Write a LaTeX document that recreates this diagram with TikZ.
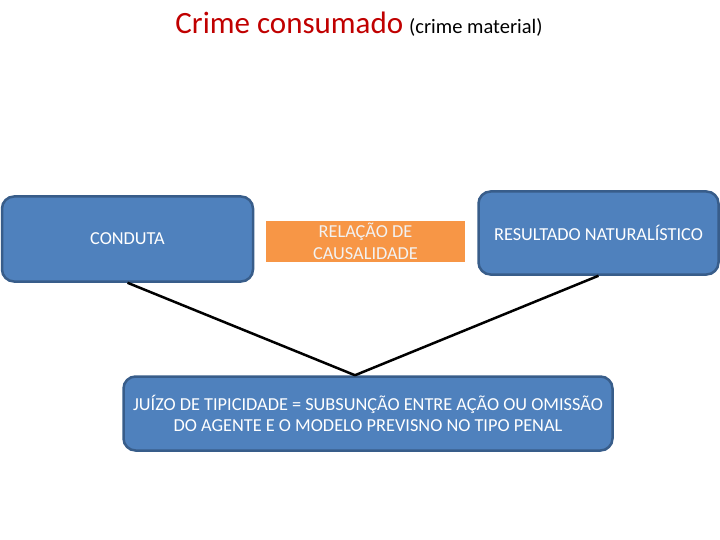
\documentclass[tikz,border=0pt]{standalone}
\usepackage{fontspec}
\setmainfont{Carlito}
\usetikzlibrary{calc}
\definecolor{boxblue}{HTML}{4F81BD}
\definecolor{boxedge}{HTML}{385D8A}
\definecolor{orng}{HTML}{F79646}
\definecolor{titlered}{HTML}{C00000}
\begin{document}
\begin{tikzpicture}[x=1pt,y=-1pt,
  bluebox/.style={draw=boxedge,line width=2.5pt,fill=boxblue,rounded corners=12pt,text=white,font=\fontsize{18.3}{21}\selectfont,align=center,inner sep=0pt},
  orangebox/.style={fill=orng,text=white!95!black,font=\fontsize{18.3}{22}\selectfont,align=center,inner sep=0pt},
  link/.style={draw=black,line width=2.5pt}]
\useasboundingbox (0,0) rectangle (720,540);
\node[anchor=base,inner sep=0pt] (title) at (359,34) {\textcolor{titlered}{\fontsize{31}{34}\selectfont Crime consumado}\hspace{6pt}{\fontsize{20.5}{24}\selectfont (crime material)}};
\node[bluebox,minimum width=251pt,minimum height=85pt] (cond) at (127.5,239) {CONDUTA};
\node[orangebox,minimum width=199pt,minimum height=41pt] (rel) at (365.5,241.5) {RELAÇÃO DE\\CAUSALIDADE};
\node[bluebox,minimum width=240pt,minimum height=83pt] (res) at (598.5,233) {RESULTADO NATURALÍSTICO};
\node[bluebox,minimum width=489pt,minimum height=74pt] (jui) at (368,413.5) {JUÍZO DE TIPICIDADE = SUBSUNÇÃO ENTRE AÇÃO OU OMISSÃO\\DO AGENTE E O MODELO PREVISNO NO TIPO PENAL};
\coordinate (meet) at ($(jui.north)+(-13,0)$);
\draw[link] (cond.south) -- (meet);
\draw[link] (res.south) -- (meet);
\end{tikzpicture}
\end{document}
